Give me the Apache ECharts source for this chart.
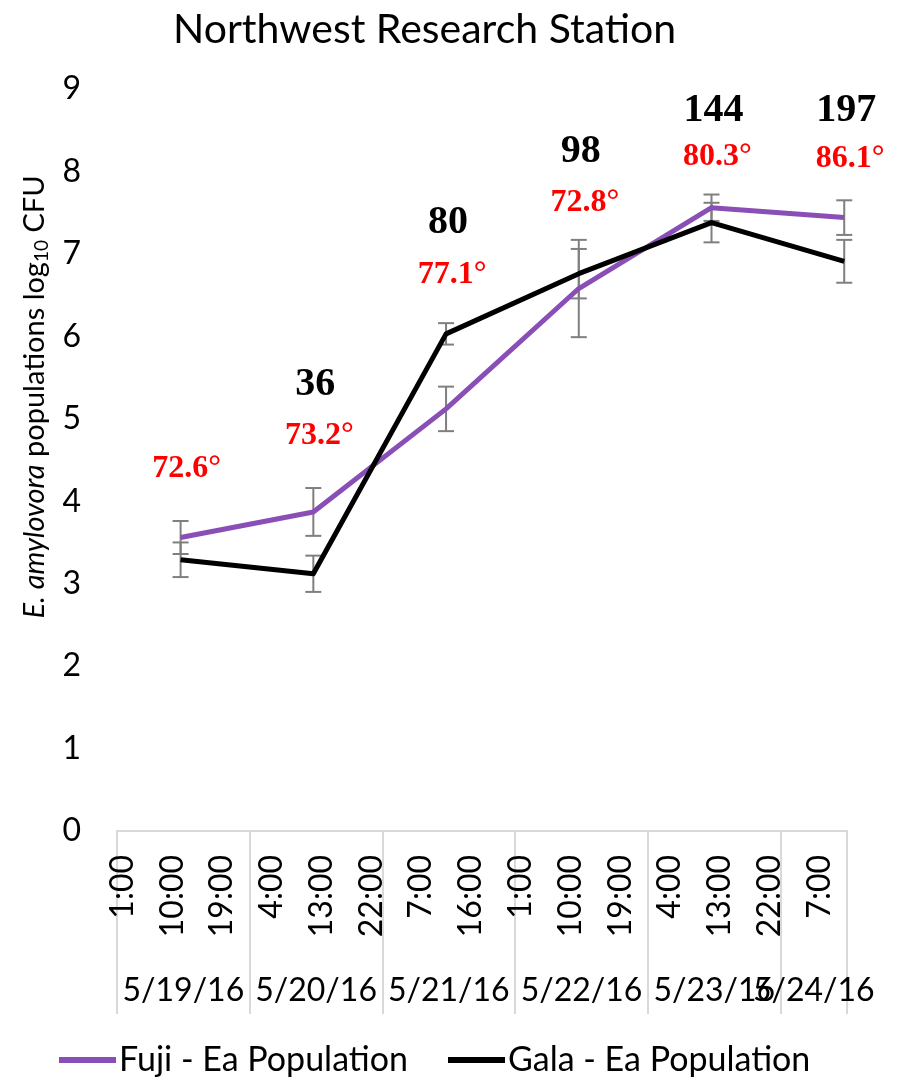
<!DOCTYPE html>
<html>
<head>
<meta charset="utf-8">
<script src="https://cdn.jsdelivr.net/npm/echarts@6/dist/echarts.min.js"></script>
<style>
  html, body { margin: 0; padding: 0; background: #fff; }
  #chart { width: 907px; height: 1080px; }
</style>
</head>
<body>
<div id="chart"></div>
<script>
// Sampling times, in hours after 5/19/16 0:00
const sampleHours = [11.5, 35.5, 59.5, 83.5, 107.5, 131.5];
const fujiValues = [3.56, 3.87, 5.12, 6.58, 7.56, 7.44];
const fujiErrors = [0.20, 0.29, 0.27, 0.59, 0.16, 0.21];
const galaValues = [3.29, 3.12, 6.03, 6.76, 7.38, 6.91];
const galaErrors = [0.21, 0.22, 0.13, 0.30, 0.24, 0.26];
const countLabels = ['', '36', '80', '98', '144', '197'];
const countLabelY = [null, 5.41, 7.38, 8.24, 8.74, 8.74];
const tempLabels = ['72.6°', '73.2°', '77.1°', '72.8°', '80.3°', '86.1°'];
const tempLabelY = [4.39, 4.79, 6.75, 7.62, 8.18, 8.15];
const hourTickValues = [1, 10, 19, 28, 37, 46, 55, 64, 73, 82, 91, 100, 109, 118, 127];
const hourTickLabels = ['1:00', '10:00', '19:00', '4:00', '13:00', '22:00', '7:00', '16:00',
                        '1:00', '10:00', '19:00', '4:00', '13:00', '22:00', '7:00'];
const dayBoundaries = [0, 24, 48, 72, 96, 120, 132];
const dayLabelValues = [12, 36, 60, 84, 108, 126];
const dayLabels = ['5/19/16', '5/20/16', '5/21/16', '5/22/16', '5/23/16', '5/24/16'];
const yTicks = [0, 1, 2, 3, 4, 5, 6, 7, 8, 9];

const FONT = 'Lato, "Open Sans", sans-serif';
const SERIF = '"Liberation Serif", "Times New Roman", serif';

const fujiData = sampleHours.map((h, i) => [h, fujiValues[i]]);
const galaData = sampleHours.map((h, i) => [h, galaValues[i]]);
const errData = sampleHours.map((h, i) => [h, fujiValues[i], fujiErrors[i]])
  .concat(sampleHours.map((h, i) => [h, galaValues[i], galaErrors[i]]));
const countData = sampleHours.map((h, i) => [h, countLabelY[i], countLabels[i]])
  .filter(d => d[2] !== '');
const tempData = sampleHours.map((h, i) => [h, tempLabelY[i], tempLabels[i]]);

// Day labels overlap at the right end, so they are drawn by two label-only axes
function dayAxis(values) {
  return {
    type: 'value',
    min: 0, max: 132,
    position: 'bottom',
    offset: 0,
    axisLine: { show: false },
    axisTick: { show: false },
    axisLabel: {
      customValues: values,
      margin: 144,
      hideOverlap: false,
      fontFamily: FONT, fontSize: 32, color: '#000',
      formatter: v => dayLabels[dayLabelValues.indexOf(v)] || ''
    },
    splitLine: { show: false }
  };
}

const chart = echarts.init(document.getElementById('chart'), null, { renderer: 'canvas' });

chart.setOption({
  animation: false,
  backgroundColor: '#ffffff',
  title: {
    text: 'Northwest Research Station',
    left: 168,
    top: 4,
    textStyle: { fontFamily: FONT, fontSize: 41, fontWeight: 'normal', color: '#000' }
  },
  legend: {
    data: ['Fuji - Ea Population', 'Gala - Ea Population'],
    left: 54,
    top: 1038,
    icon: 'rect',
    itemWidth: 57,
    itemHeight: 6,
    itemGap: 40,
    textStyle: { fontFamily: FONT, fontSize: 34, color: '#000', padding: [0, 0, 0, -2] }
  },
  grid: {
    left: 117, right: 60, top: 89, bottom: 249,
    containLabel: false,
    outerBoundsMode: 'none'
  },
  xAxis: [
    {
      type: 'value',
      min: 0, max: 132,
      position: 'bottom',
      axisLine: { show: true, lineStyle: { color: '#d9d9d9', width: 2 } },
      axisTick: {
        show: true, customValues: dayBoundaries, length: 183, inside: false,
        lineStyle: { color: '#d9d9d9', width: 2 }
      },
      axisLabel: {
        customValues: hourTickValues,
        rotate: 90,
        margin: 24,
        hideOverlap: false,
        fontFamily: FONT, fontSize: 32, color: '#000',
        formatter: v => hourTickLabels[hourTickValues.indexOf(v)] || ''
      },
      splitLine: { show: false }
    },
    dayAxis(dayLabelValues.slice(0, 5)),
    dayAxis(dayLabelValues.slice(5))
  ],
  yAxis: {
    type: 'value',
    min: 0, max: 9, interval: 1,
    axisLine: { show: false },
    axisTick: { show: false },
    splitLine: { show: false },
    axisLabel: {
      margin: 36, fontFamily: FONT, fontSize: 32, color: '#000',
      formatter: v => String(yTicks[yTicks.indexOf(v)])
    },
    name: '{i|E. amylovora} populations log{s|10} CFU',
    nameLocation: 'middle',
    nameGap: 64,
    nameRotate: 90,
    nameTextStyle: {
      fontFamily: FONT, fontSize: 29, color: '#000',
      padding: [0, 0, 0, 126],
      rich: {
        i: { fontFamily: FONT, fontSize: 29, fontStyle: 'italic', color: '#000' },
        s: { fontFamily: FONT, fontSize: 19, color: '#000', padding: [14, 0, 0, 0] }
      }
    }
  },
  series: [
    {
      name: 'errorbars',
      type: 'custom',
      xAxisIndex: 0,
      z: 2,
      silent: true,
      data: errData,
      encode: { x: 0, y: 1 },
      renderItem: function (params, api) {
        const x = api.value(0), v = api.value(1), e = api.value(2);
        const top = api.coord([x, v + e]);
        const bot = api.coord([x, v - e]);
        const hw = 8;
        const st = { stroke: '#7f7f7f', lineWidth: 2 };
        return {
          type: 'group',
          children: [
            { type: 'line', shape: { x1: top[0], y1: top[1], x2: bot[0], y2: bot[1] }, style: st },
            { type: 'line', shape: { x1: top[0] - hw, y1: top[1], x2: top[0] + hw, y2: top[1] }, style: st },
            { type: 'line', shape: { x1: bot[0] - hw, y1: bot[1], x2: bot[0] + hw, y2: bot[1] }, style: st }
          ]
        };
      }
    },
    {
      name: 'Fuji - Ea Population',
      type: 'line',
      xAxisIndex: 0,
      data: fujiData,
      symbol: 'none',
      z: 3,
      color: '#8a4fb7',
      lineStyle: { color: '#8a4fb7', width: 5, join: 'round' }
    },
    {
      name: 'Gala - Ea Population',
      type: 'line',
      xAxisIndex: 0,
      data: galaData,
      symbol: 'none',
      z: 4,
      color: '#000000',
      lineStyle: { color: '#000000', width: 5, join: 'round' }
    },
    {
      name: 'counts',
      type: 'scatter',
      xAxisIndex: 0,
      data: countData,
      symbolSize: 0,
      silent: true,
      z: 5,
      itemStyle: { opacity: 1 },
      label: {
        show: true, position: 'inside', offset: [2, 0], opacity: 1,
        formatter: p => p.data[2],
        fontFamily: SERIF, fontWeight: 'bold', fontSize: 40, color: '#000000'
      }
    },
    {
      name: 'temps',
      type: 'scatter',
      xAxisIndex: 0,
      data: tempData,
      symbolSize: 0,
      silent: true,
      z: 5,
      itemStyle: { opacity: 1 },
      label: {
        show: true, position: 'inside', offset: [6, 0], opacity: 1,
        formatter: p => p.data[2],
        fontFamily: SERIF, fontWeight: 'bold', fontSize: 32, color: '#ff0000'
      }
    }
  ]
});
</script>
</body>
</html>
